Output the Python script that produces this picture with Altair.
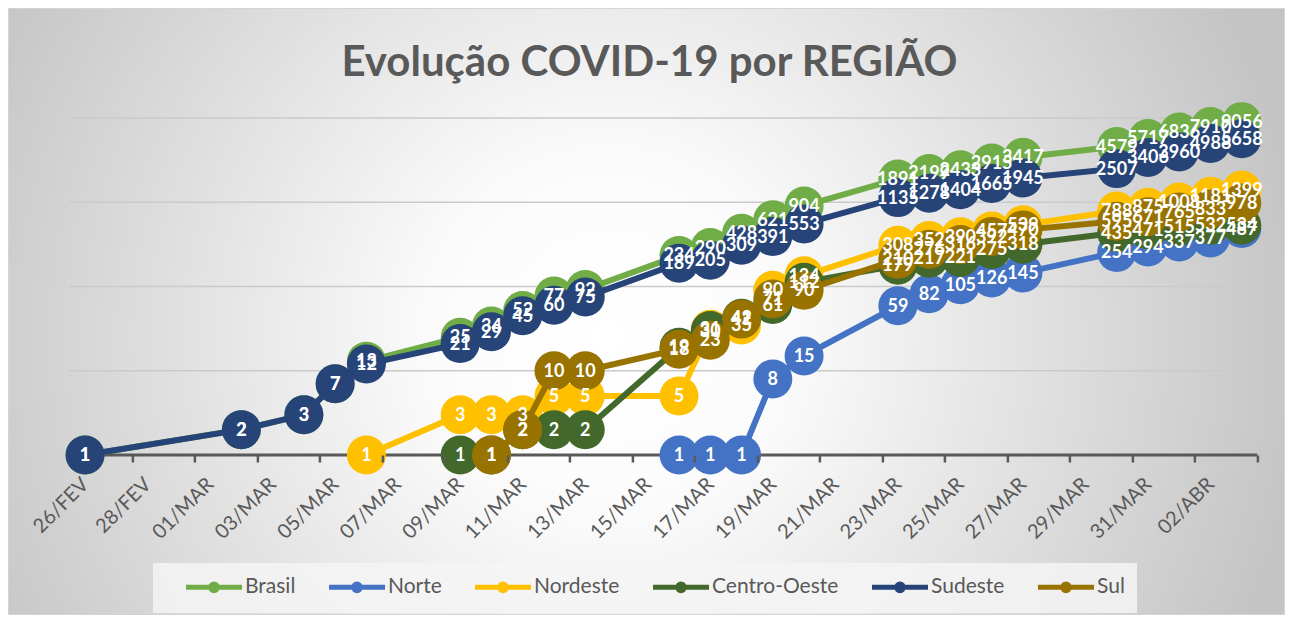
import json
import altair as alt
import pandas as pd

# ---------------- data ----------------
dates = ["2020-02-26", "2020-03-02", "2020-03-04", "2020-03-05", "2020-03-06",
         "2020-03-09", "2020-03-10", "2020-03-11", "2020-03-12", "2020-03-13",
         "2020-03-16", "2020-03-17", "2020-03-18", "2020-03-19", "2020-03-20",
         "2020-03-23", "2020-03-24", "2020-03-25", "2020-03-26", "2020-03-27",
         "2020-03-30", "2020-03-31", "2020-04-01", "2020-04-02", "2020-04-03"]

series_names = ["Brasil", "Norte", "Nordeste", "Centro-Oeste", "Sudeste", "Sul"]
series_colors = ["#70AD47", "#4472C4", "#FFC000", "#43682B", "#264478", "#997300"]

brasil = [1, 2, 3, 7, 13, 25, 34, 52, 77, 92, 234, 290, 428, 621, 904,
          1891, 2199, 2433, 2915, 3417, 4579, 5717, 6836, 7910, 9056]
norte = [None] * 10 + [1, 1, 1, 8, 15, 59, 82, 105, 126, 145, 254, 294, 337, 377, 487]
nordeste = [None] * 4 + [1, 3, 3, 3, 5, 5, 5, 31, 35, 90, 134,
                         308, 352, 390, 457, 539, 788, 875, 1008, 1181, 1399]
centro_oeste = [None] * 5 + [1, 1, 2, 2, 2, 19, 30, 42, 61, 112,
                             179, 217, 221, 275, 318, 435, 471, 515, 532, 534]
sudeste = [1, 2, 3, 7, 12, 21, 29, 45, 60, 75, 189, 205, 309, 391, 553,
           1135, 1278, 1404, 1665, 1945, 2507, 3406, 3960, 4988, 5658]
sul = [None] * 6 + [1, 2, 10, 10, 18, 23, 41, 71, 90,
                    210, 276, 316, 392, 470, 595, 671, 765, 833, 978]

tick_labels = ["26/FEV", "28/FEV", "01/MAR", "03/MAR", "05/MAR", "07/MAR", "09/MAR",
               "11/MAR", "13/MAR", "15/MAR", "17/MAR", "19/MAR", "21/MAR", "23/MAR",
               "25/MAR", "27/MAR", "29/MAR", "31/MAR", "02/ABR"]
grid_values = [10, 100, 1000, 10000]
base_value = [1]

# ---------------- table ----------------
start = pd.Timestamp(dates[0])
rows = []
for name, vals in zip(series_names, [brasil, norte, nordeste, centro_oeste, sudeste, sul]):
    for d, v in zip(dates, vals):
        if v is not None:
            rows.append({"serie": name, "dia": (pd.Timestamp(d) - start).days, "casos": v})
df = pd.DataFrame(rows)

# ---------------- layout ----------------
W, H = 1188, 337
PL, PT = 61.4, 110
PR = 1277 - PL - W
PB = 607 - PT - H
day_px = W / 38.0

x_scale = alt.Scale(domain=[-0.5, 37.5], nice=False, zero=False)
y_scale = alt.Scale(type="log", domain=[1, 10000], nice=False)

label_expr = json.dumps(tick_labels).replace('"', "'") + "[round(datum.value / 2)]"
x_axis = alt.Axis(
    values=[2 * i for i in range(len(tick_labels))],
    labelExpr=label_expr,
    grid=False, domain=False,
    ticks=True, tickColor="#595959", tickWidth=2.5, tickSize=7,
    tickOffset=1.5 * day_px, labelOffset=-1.5 * day_px,
    labelAngle=-45, labelAlign="right", labelBaseline="middle",
    labelFont="Lato", labelFontSize=20, labelColor="#595959",
    labelPadding=19, labelOverlap=False, labelFlush=False, labelBound=False,
    title=None, zindex=1,
)
x_enc = alt.X("dia:Q", scale=x_scale, axis=x_axis)
y_enc = alt.Y("casos:Q", scale=y_scale, axis=None)

# legend symbol: a line with a dot, drawn beyond the unit box so that the row stays short
legend_symbol = "M-3,0L3,0M-0.36,0A0.36,0.36,0,1,1,0.36,0A0.36,0.36,0,1,1,-0.36,0Z"
legend = alt.Legend(
    orient="none", legendX=83.6, legendY=445, direction="horizontal", title=None,
    symbolType=legend_symbol, symbolSize=348, symbolStrokeWidth=5,
    labelFont="Lato", labelFontSize=21, labelColor="#595959", labelOffset=19,
    columnPadding=12, symbolOffset=37, padding=12,
    fillColor="rgba(244,244,244,0.85)", zindex=1,
)
color_scale = alt.Scale(domain=series_names, range=series_colors)

gradient = {
    "gradient": "radial",
    "x1": 0.47, "y1": 0.52, "r1": 0,
    "x2": 0.47, "y2": 0.52, "r2": 0.55,
    "stops": [
        {"offset": 0, "color": "#ffffff"},
        {"offset": 0.25, "color": "#fbfbfb"},
        {"offset": 1, "color": "#c4c4c4"},
    ],
}

background = alt.Chart(pd.DataFrame({"k": [0]})).mark_rect(
    fill=gradient, stroke="#d4d4d4", strokeWidth=1
).encode(
    x=alt.value(-PL + 0.5), x2=alt.value(W + PR - 0.5),
    y=alt.value(-PT + 0.5), y2=alt.value(H + PB - 0.5),
)

grid = alt.Chart(pd.DataFrame({"v": grid_values})).mark_rule(
    color="#cacaca", strokeWidth=1.5
).encode(y=alt.Y("v:Q", scale=y_scale, axis=None))

baseline = alt.Chart(pd.DataFrame({"v": base_value})).mark_rule(
    color="#595959", strokeWidth=3
).encode(y=alt.Y("v:Q", scale=y_scale, axis=None))

layers = [background, grid, baseline]
base = alt.Chart(df)
for name in series_names:
    sub = base.transform_filter(alt.datum.serie == name)
    layers.append(
        sub.mark_line(strokeWidth=6).encode(
            x=x_enc, y=y_enc,
            color=alt.Color("serie:N", scale=color_scale, legend=legend),
        )
    )
    layers.append(
        sub.mark_circle(size=1520, opacity=1).encode(
            x=x_enc, y=y_enc,
            fill=alt.Fill("serie:N", scale=color_scale, legend=None),
        )
    )

labels = base.mark_text(
    font="Lato", fontSize=18, fontWeight="bold", color="white",
    align="center", baseline="middle", dy=1,
).encode(x=x_enc, y=y_enc, text=alt.Text("casos:Q", format="d"))
layers.append(labels)

chart = alt.layer(*layers).properties(
    width=W, height=H,
    autosize=alt.AutoSizeParams(type="none"),
    padding={"left": PL, "top": PT, "right": PR, "bottom": PB},
    background="white",
    title=alt.TitleParams(
        text="Evolução COVID-19 por REGIÃO", font="Lato", fontSize=42,
        fontWeight="bold", color="#595959", anchor="middle", frame="group",
        offset=-110, baseline="alphabetic", dx=-14,
    ),
).configure_view(stroke="transparent")

chart.save("out.html", embed_options={"renderer": "svg", "actions": False})
